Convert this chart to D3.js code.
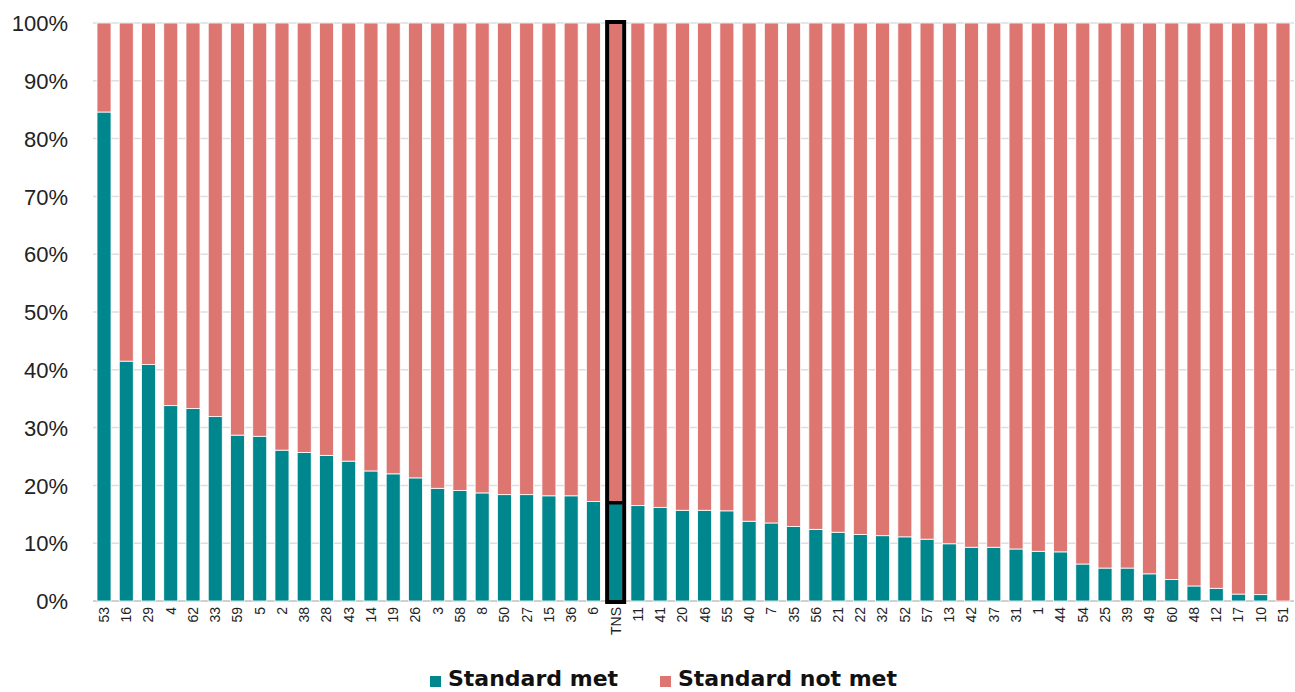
<!DOCTYPE html>
<html>
  <head>
    <meta charset="utf-8" />
    <title>Standard met by area</title>
    <script src="https://d3js.org/d3.v7.min.js"></script>
    <style>
      body {
        margin: 0;
        font-family: 'Inter', 'Open Sans', sans-serif;
        background: #fff;
      }
      .y-axis text {
        font-size: 22px;
        font-weight: 300;
        fill: #222;
      }
      .x-axis text {
        font-size: 14px;
        font-weight: 300;
        fill: #222;
      }
      .legend text {
        font-family: 'DejaVu Sans', sans-serif;
        font-size: 22px;
        font-weight: 700;
        fill: #111;
      }
    </style>
  </head>
  <body>
    <div id="chart"></div>
    <script>
      // categories (sorted by share meeting the standard)
      const areas = [
        '53', '16', '29', '4', '62', '33', '59', '5', '2', '38', '28', '43',
        '14', '19', '26', '3', '58', '8', '50', '27', '15', '36', '6', 'TNS',
        '11', '41', '20', '46', '55', '40', '7', '35', '56', '21', '22', '32',
        '52', '57', '13', '42', '37', '31', '1', '44', '54', '25', '39', '49',
        '60', '48', '12', '17', '10', '51',
      ];

      // % meeting the standard
      const metValues = [
        84.6, 41.5, 40.9, 33.8, 33.3, 31.9, 28.7, 28.5, 26.1, 25.7, 25.2, 24.2,
        22.5, 22.0, 21.3, 19.5, 19.1, 18.7, 18.4, 18.4, 18.2, 18.2, 17.2, 17.0,
        16.5, 16.2, 15.7, 15.7, 15.6, 13.8, 13.5, 12.9, 12.4, 11.9, 11.5, 11.3,
        11.1, 10.7, 9.9, 9.3, 9.3, 9.0, 8.6, 8.5, 6.4, 5.7, 5.7, 4.7,
        3.7, 2.6, 2.2, 1.2, 1.1, 0,
      ];

      // % not meeting the standard
      const notMetValues = metValues.map((v) => 100 - v);

      const seriesNames = ['Standard met', 'Standard not met'];
      const seriesColors = ['#00878E', '#DD7571'];
      const highlight = 'TNS';

      const width = 1295;
      const height = 692;
      const margin = { top: 23, right: 1, bottom: 91, left: 93 };

      const rows = areas.map((a, i) => ({
        area: a,
        met: metValues[i],
        notMet: notMetValues[i],
      }));

      const stack = d3.stack().keys(['met', 'notMet'])(rows);

      const x = d3
        .scaleBand()
        .domain(areas)
        .range([margin.left, width - margin.right])
        .paddingInner(0.37)
        .paddingOuter(0.18);

      const y = d3
        .scaleLinear()
        .domain([0, 100])
        .range([height - margin.bottom, margin.top]);

      const svg = d3
        .select('#chart')
        .append('svg')
        .attr('width', width)
        .attr('height', height);

      // グリッド線
      svg
        .append('g')
        .selectAll('line')
        .data(y.ticks(10))
        .join('line')
        .attr('x1', margin.left)
        .attr('x2', width - margin.right)
        .attr('y1', (d) => y(d))
        .attr('y2', (d) => y(d))
        .attr('stroke', (d) => (d === 0 ? '#d0d0d0' : '#dedede'))
        .attr('stroke-width', (d) => (d === 0 ? 2 : 1.5));

      // bars
      svg
        .append('g')
        .selectAll('g')
        .data(stack)
        .join('g')
        .attr('fill', (d, i) => seriesColors[i])
        .selectAll('rect')
        .data((d) => d)
        .join('rect')
        .attr('x', (d) => x(d.data.area))
        .attr('width', x.bandwidth())
        .attr('y', (d) => y(d[1]))
        .attr('height', (d) => y(d[0]) - y(d[1]))
        .attr('stroke', '#fff')
        .attr('stroke-width', 0.8);

      // highlight the TNS bar
      const hi = rows.find((r) => r.area === highlight);
      const hg = svg.append('g').attr('fill', 'none').attr('stroke', '#000');
      hg.append('rect')
        .attr('x', x(highlight) - 1.5)
        .attr('width', x.bandwidth() + 3)
        .attr('y', y(100) - 1)
        .attr('height', y(0) - y(100) + 2)
        .attr('stroke-width', 4);
      hg.append('line')
        .attr('x1', x(highlight))
        .attr('x2', x(highlight) + x.bandwidth())
        .attr('y1', y(hi.met))
        .attr('y2', y(hi.met))
        .attr('stroke-width', 3.5);

      // y軸
      const yAxis = svg
        .append('g')
        .attr('class', 'y-axis')
        .attr('transform', `translate(${margin.left - 22},0)`)
        .call(
          d3
            .axisLeft(y)
            .ticks(10)
            .tickSize(0)
            .tickFormat((d) => d + '%'),
        );
      yAxis.select('.domain').remove();
      yAxis.selectAll('text').attr('dy', '0.35em');

      // x軸
      const xAxis = svg
        .append('g')
        .attr('class', 'x-axis')
        .attr('transform', `translate(0,${y(0) + 6})`)
        .call(d3.axisBottom(x).tickSize(0));
      xAxis.select('.domain').remove();
      xAxis
        .selectAll('text')
        .attr('transform', 'rotate(-90)')
        .attr('text-anchor', 'end')
        .attr('x', 0)
        .attr('y', 0)
        .attr('dy', '0.35em');

      // legend
      const legend = svg
        .append('g')
        .attr('class', 'legend')
        .attr('transform', `translate(0,${height - 6})`);
      const legendX = [430, 660];
      seriesNames.forEach((name, i) => {
        legend
          .append('rect')
          .attr('x', legendX[i])
          .attr('y', -10)
          .attr('width', 11)
          .attr('height', 11)
          .attr('fill', seriesColors[i]);
        legend
          .append('text')
          .attr('x', legendX[i] + 18)
          .attr('y', 0)
          .text(name);
      });
    </script>
  </body>
</html>
